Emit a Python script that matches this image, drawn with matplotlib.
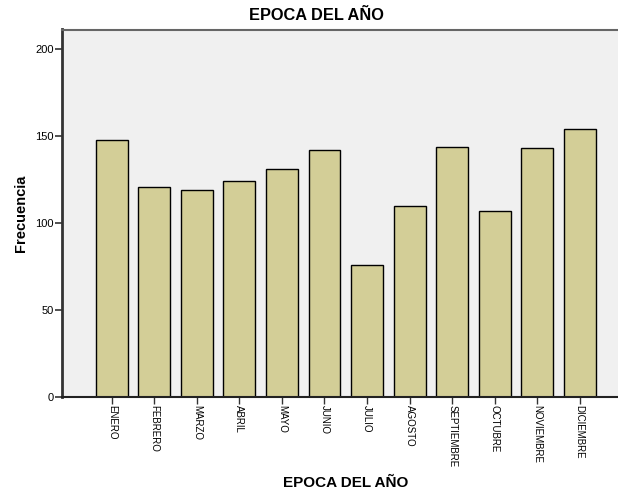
import matplotlib
matplotlib.use("Agg")
import matplotlib.pyplot as plt

months = ["ENERO", "FEBRERO", "MARZO", "ABRIL", "MAYO", "JUNIO", "JULIO",
          "AGOSTO", "SEPTIEMBRE", "OCTUBRE", "NOVIEMBRE", "DICIEMBRE"]
counts = [148, 121, 119, 124, 131, 142, 76, 110, 144, 107, 143, 154]
y_ticks = [0, 50, 100, 150, 200]

plt.rcParams["font.family"] = ["Liberation Sans", "DejaVu Sans"]

fig = plt.figure(figsize=(6.18, 4.96), dpi=100)
ax = fig.add_axes([62 / 618, 99 / 496, 1 - 62 / 618, 367.5 / 496])
ax.set_facecolor("#F0F0F0")

pos = range(len(months))
ax.bar(pos, counts, width=0.75, color="#D3CE97", edgecolor="black", linewidth=1.0, zorder=2)

ax.set_xlim(-1.17, 11.9)
ax.set_ylim(0, 211.4)
ax.set_yticks(y_ticks)
ax.set_xticks(list(pos))
ax.set_xticklabels(months, rotation=-90, fontsize=7)
ax.tick_params(axis="y", labelsize=8, length=5, width=1.2, color="#333333", pad=1)
ax.tick_params(axis="x", length=5, width=1.0, color="#333333", pad=1)

ax.spines["left"].set_linewidth(2)
ax.spines["left"].set_color("#333333")
ax.spines["bottom"].set_linewidth(1.5)
ax.spines["bottom"].set_color("#222222")
ax.spines["top"].set_linewidth(1.5)
ax.spines["top"].set_color("#666666")
ax.spines["right"].set_visible(False)

ax.set_ylabel("Frecuencia", fontsize=10.5, fontweight="bold", labelpad=5)
fig.text(346 / 618, 1 - 483 / 496, "EPOCA DEL AÑO", fontsize=11, fontweight="bold",
         ha="center", va="center")
fig.text(316 / 618, 1 - 16 / 496, "EPOCA DEL AÑO", fontsize=11.8, fontweight="bold",
         ha="center", va="center")

fig.savefig("out.png", dpi=100)
